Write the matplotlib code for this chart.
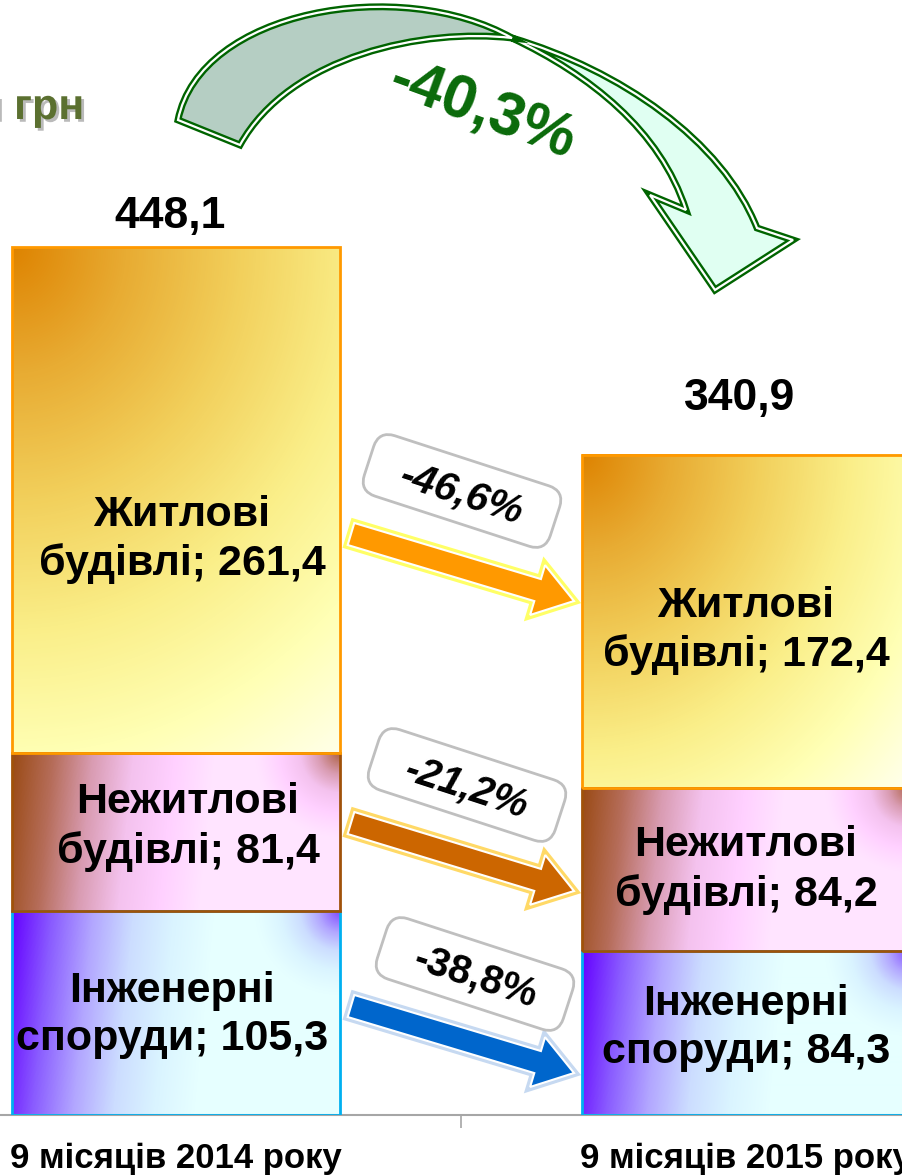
import numpy as np
import matplotlib
matplotlib.use("Agg")
import matplotlib.pyplot as plt
import matplotlib.patheffects as pe
from matplotlib.colors import LinearSegmentedColormap
from matplotlib.patches import PathPatch, Polygon, FancyBboxPatch
from matplotlib.path import Path
from matplotlib.transforms import Affine2D

plt.rcParams['font.family'] = ['Liberation Sans', 'DejaVu Sans']

# data (bottom -> top)
periods = ['9 місяців 2014 року', '9 місяців 2015 року']
segments = ['Інженерні\nспоруди', 'Нежитлові\nбудівлі', 'Житлові\nбудівлі']
values_2014 = [105.3, 81.4, 261.4]
values_2015 = [84.3, 84.2, 172.4]
totals = [448.1, 340.9]
changes = ['-38,8%', '-21,2%', '-46,6%']
total_change = '-40,3%'
unit = 'млн грн'

# styles per segment
seg_colors = [
    ['#6400FF', '#8A5CFF', '#B2A6FF', '#CCDDFF', '#DAF4FF', '#E6FFFF'],
    ['#9A4A14', '#B56C58', '#D99CB2', '#F4C2EE', '#FFD0FF', '#FFE4FF'],
    ['#DE8300', '#E8AC33', '#F2D05C', '#FAEE88', '#FFFFB4', '#FFFFEE'],
]
seg_mode = ['side', 'side', 'diag']
seg_edges = ['#00B0F0', '#A0520A', '#FF9900']
label_dy = [[2, -5, 39], [-5, 0, 9]]   # px, downward
label_dx = [[-4, 12, 6], [0, 0, 0]]
total_dy = [10, 36]

W_FIG, H_FIG = 903, 1176
PX_PER_UNIT = 1.935
BASE_PX = 1114.5

fig = plt.figure(figsize=(W_FIG / 100, H_FIG / 100), dpi=100)
ax = fig.add_axes([-109 / W_FIG, 1 - BASE_PX / H_FIG, 1140 / W_FIG, BASE_PX / H_FIG])


def gradient(colors, w, h, mode):
    cmap = LinearSegmentedColormap.from_list('g', colors)
    yy, xx = np.mgrid[0:h, 0:w] + 0.5
    if mode == 'diag':
        t = np.hypot(xx, yy * 0.9) / (0.95 * np.hypot(w, h))
    else:
        t = (xx + 0.1 * yy) / (0.62 * w)
        d2 = np.hypot(w - xx, yy)
        k = np.clip(1 - d2 / 85, 0, 1) ** 1.2
        t = np.clip(t, 0, 1) * (1 - 0.85 * k)
    return cmap(np.clip(t, 0, 1))


width = 0.575
xs = [0, 1]
for i, vals in enumerate([values_2014, values_2015]):
    bottom = 0
    for j, v in enumerate(vals):
        w_px = int(round(width * 570))
        h_px = max(int(round(v * PX_PER_UNIT)), 2)
        img = gradient(seg_colors[j], w_px, h_px, seg_mode[j])
        ax.imshow(img, extent=[xs[i] - width / 2, xs[i] + width / 2, bottom, bottom + v],
                  origin='upper', aspect='auto', interpolation='bilinear', zorder=2)
        ax.bar(xs[i], v, width, bottom=bottom, color='none',
               edgecolor=seg_edges[j], linewidth=2, zorder=3)
        lab = f"{segments[j]}; {v:.1f}".replace('.', ',')
        ax.annotate(lab, (xs[i], bottom + v / 2), xytext=(label_dx[i][j], -label_dy[i][j]),
                    textcoords='offset pixels', ha='center', va='center',
                    fontsize=31, fontweight='bold', linespacing=1.26, zorder=4)
        bottom += v
    ax.annotate(f"{totals[i]:.1f}".replace('.', ','), (xs[i], totals[i]),
                xytext=(-6, total_dy[i]), textcoords='offset pixels', ha='center', va='bottom',
                fontsize=32, fontweight='bold', zorder=4)

ax.set_xlim(-0.5, 1.5)
ax.set_ylim(0, BASE_PX / PX_PER_UNIT)
ax.set_facecolor('none')
for s in ['top', 'left', 'right']:
    ax.spines[s].set_visible(False)
ax.spines['bottom'].set_color('#A6A6A6')
ax.spines['bottom'].set_linewidth(1.5)
ax.set_yticks([])
ax.set_xticks(xs)
ax.set_xticklabels(periods, fontsize=25, fontweight='bold')
ax.tick_params(axis='x', length=0, pad=20)
ax.set_xticks([0.5], minor=True)
ax.tick_params(axis='x', which='minor', length=9, color='#A6A6A6', width=1.2)

# overlay in pixel coordinates for decorations
ov = fig.add_axes([0, 0, 1, 1], zorder=5)
ov.set_xlim(0, W_FIG)
ov.set_ylim(H_FIG, 0)
ov.axis('off')

# unit label (cut at the left edge)
ov.text(84, 119, unit, ha='right', va='baseline', fontsize=31, fontweight='bold',
        color='#5B7030',
        path_effects=[pe.SimplePatchShadow(offset=(2, -2), shadow_rgbFace='#8C8C8C', alpha=0.6),
                      pe.Normal()])

# big curved arrow
C4, MT, LT, CP = Path.CURVE4, Path.MOVETO, Path.LINETO, Path.CLOSEPOLY
mint = Path([(512, 38), (620, 70), (722, 140), (757, 228), (793, 240), (715, 290),
             (650, 195), (686, 210), (660, 130), (590, 75), (512, 38), (512, 38)],
            [MT, C4, C4, C4, LT, LT, LT, LT, C4, C4, C4, CP])
gray = Path([(178, 120), (200, 10), (400, -25), (512, 38), (425, 28), (290, 55),
             (240, 145), (178, 120)],
            [MT, C4, C4, C4, C4, C4, C4, CP])
for p, fc in [(mint, '#E0FFF2'), (gray, '#B5CEC3')]:
    ov.add_patch(PathPatch(p, facecolor=fc, edgecolor='#006400', lw=5, joinstyle='miter'))
    ov.add_patch(PathPatch(p, facecolor='none', edgecolor='white', lw=1.6, joinstyle='miter'))
ov.text(482, 112, total_change, rotation=-20, rotation_mode='anchor', ha='center', va='center',
        fontsize=44, fontweight='bold', color='#0A6A0A')

# small arrows with rotated boxes (bottom -> top segments)
arrow_tail = [(351, 1006), (351, 823), (351, 534)]
arrow_tip = [(574, 1073), (574, 891), (574, 601)]
arrow_fill = ['#0066CC', '#CC6600', '#FF9900']
arrow_glow = ['#C6D9F1', '#FFD966', '#FFFF66']
box_center = [(475, 974), (467, 785), (462, 491)]
box_italic = ['normal', 'italic', 'italic']


def arrow_poly(tail, tip, w=23, hw=52, hl=38):
    t = np.array(tail, float)
    p = np.array(tip, float)
    d = (p - t) / np.hypot(*(p - t))
    n = np.array([-d[1], d[0]])
    b = p - d * hl
    return [t + n * w / 2, b + n * w / 2, b + n * hw / 2, p, b - n * hw / 2,
            b - n * w / 2, t - n * w / 2]


for k in range(3):
    pts = arrow_poly(arrow_tail[k], arrow_tip[k])
    ov.add_patch(Polygon(pts, closed=True, facecolor=arrow_glow[k], edgecolor=arrow_glow[k],
                         lw=6, joinstyle='miter'))
    ov.add_patch(Polygon(pts, closed=True, facecolor=arrow_fill[k], edgecolor='white',
                         lw=1.5, joinstyle='miter'))
    cx, cy = box_center[k]
    bw, bh = 190, 58
    tr = Affine2D().rotate_deg_around(cx, cy, 18) + ov.transData
    for ec, lw in [('#BFBFBF', 6), ('white', 2)]:
        ov.add_patch(FancyBboxPatch((cx - bw / 2, cy - bh / 2), bw, bh,
                                    boxstyle='round,pad=0,rounding_size=14',
                                    facecolor='white', edgecolor=ec, lw=lw, transform=tr))
    ov.text(cx, cy + 3, changes[k], rotation=-18, rotation_mode='anchor', ha='center',
            va='center', fontsize=29, fontweight='bold', fontstyle=box_italic[k])

fig.savefig('out.png', dpi=100)
